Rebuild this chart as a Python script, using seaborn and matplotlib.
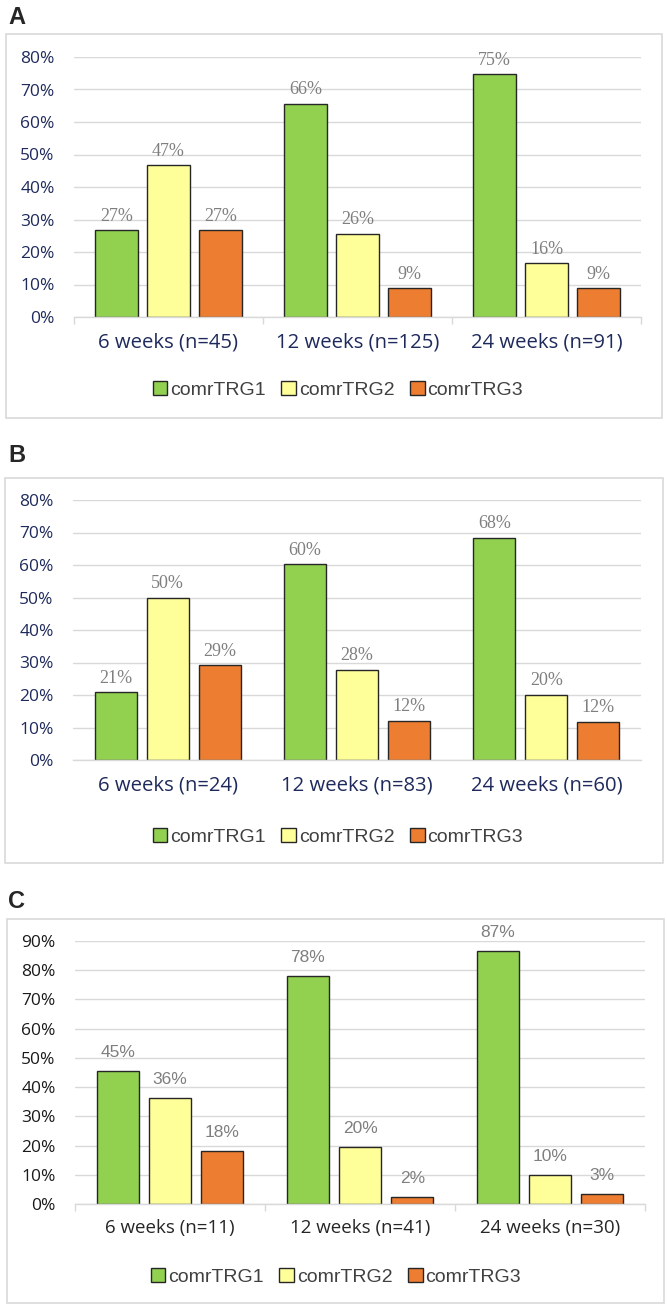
import numpy as np
import pandas as pd
import matplotlib
matplotlib.use("Agg")
import matplotlib.pyplot as plt
import seaborn as sns
from matplotlib.patches import Rectangle, Patch
from matplotlib.ticker import PercentFormatter, FixedLocator

sns.set_style("white")
plt.rcParams['font.family'] = ['Open Sans', 'DejaVu Sans']

groups = ["comrTRG1", "comrTRG2", "comrTRG3"]
colors = ["#92D050", "#FFFF99", "#ED7D31"]

cats_a = ["6 weeks (n=45)", "12 weeks (n=125)", "24 weeks (n=91)"]
trg1_a = [26.7, 65.6, 74.7]
trg2_a = [46.7, 25.6, 16.5]
trg3_a = [26.7, 8.8, 8.8]

cats_b = ["6 weeks (n=24)", "12 weeks (n=83)", "24 weeks (n=60)"]
trg1_b = [20.8, 60.2, 68.3]
trg2_b = [50.0, 27.7, 20.0]
trg3_b = [29.2, 12.0, 11.7]

cats_c = ["6 weeks (n=11)", "12 weeks (n=41)", "24 weeks (n=30)"]
trg1_c = [45.4, 78.0, 86.7]
trg2_c = [36.4, 19.5, 10.0]
trg3_c = [18.2, 2.4, 3.3]

W, H = 667, 1308
fig = plt.figure(figsize=(W / 100, H / 100), dpi=100)


def rect(left, right, top, bottom):
    return [left / W, 1 - bottom / H, (right - left) / W, (bottom - top) / H]


def panel(letter, cats, t1, t2, t3, axpx, boxpx, letter_y, leg_xy, ymax,
          tick_color, cat_color, cat_size, val_font, val_size, val_pad, xticks_marks):
    l, r, t, b = axpx
    ax = fig.add_axes(rect(l, r, t, b))
    df = pd.DataFrame({
        "cat": cats * 3,
        "grp": [g for g in groups for _ in cats],
        "val": [v / 100 for v in (t1 + t2 + t3)],
    })
    sns.barplot(data=df, x="cat", y="val", hue="grp", order=cats, hue_order=groups,
                palette=dict(zip(groups, colors)), width=0.825, gap=0.19,
                edgecolor="#262626", linewidth=1.0, ax=ax, legend=False,
                errorbar=None, saturation=1)
    for cont, vals in zip(ax.containers, (t1, t2, t3)):
        ax.bar_label(cont, labels=[f"{int(round(v))}%" for v in vals],
                     padding=val_pad, color="#7F7F7F", fontsize=val_size,
                     family=val_font)
    ax.set_ylim(0, ymax / 100)
    ax.set_xlim(-0.5, 2.5)
    ax.yaxis.set_major_locator(FixedLocator(np.arange(0, ymax / 100 + 1e-9, 0.1)))
    ax.yaxis.set_major_formatter(PercentFormatter(1, decimals=0))
    ax.yaxis.grid(True, color="#D9D9D9", lw=1)
    ax.set_axisbelow(True)
    for s in ("top", "right", "left"):
        ax.spines[s].set_visible(False)
    ax.spines["bottom"].set_color("#D9D9D9")
    ax.spines["bottom"].set_linewidth(1)
    ax.set_xlabel("")
    ax.set_ylabel("")
    ax.tick_params(axis="y", length=0, pad=14, labelsize=12.5, labelcolor=tick_color)
    ax.tick_params(axis="x", which="major", length=0, pad=11, labelsize=cat_size,
                   labelcolor=cat_color)
    if xticks_marks:
        ax.xaxis.set_minor_locator(FixedLocator([-0.5, 0.5, 1.5, 2.5]))
        ax.tick_params(axis="x", which="minor", length=5, width=1, color="#D9D9D9",
                       direction="out", bottom=True)
    x0, y0, x1, y1 = boxpx
    fig.add_artist(Rectangle((x0 / W, 1 - y1 / H), (x1 - x0) / W, (y1 - y0) / H,
                             transform=fig.transFigure, fill=False,
                             ec="#D9D9D9", lw=1.2))
    fig.text(8 / W, 1 - letter_y / H, letter, fontsize=17, fontweight="bold",
             family=["Liberation Sans", "DejaVu Sans"], va="center", ha="left")
    handles = [Patch(fc=c, ec="#262626", lw=1) for c in colors]
    fig.legend(handles, groups, loc="center",
               bbox_to_anchor=(leg_xy[0] / W, 1 - leg_xy[1] / H), ncol=3,
               frameon=False, prop=dict(family="Liberation Sans", size=14),
               labelcolor="#404040", handlelength=0.75, handleheight=0.75,
               handletextpad=0.15, columnspacing=0.8, borderaxespad=0, borderpad=0)
    return ax


serif = ["Liberation Serif", "DejaVu Serif"]
narrow = ["Liberation Sans Narrow", "Liberation Sans", "DejaVu Sans"]

panel("A", cats_a, trg1_a, trg2_a, trg3_a, (74, 641, 57, 317), (6, 34, 662, 418),
      17, (338, 390), 80, "#1F2A5C", "#1F2A5C", 14.6, serif, 13, 4, True)
panel("B", cats_b, trg1_b, trg2_b, trg3_b, (73, 641, 500, 760), (5, 478, 663, 863),
      456, (338, 837), 80, "#1F2A5C", "#1F2A5C", 14.6, serif, 13, 4, False)
panel("C", cats_c, trg1_c, trg2_c, trg3_c, (75, 645, 941, 1204), (7, 919, 664, 1303),
      902, (336, 1277), 90, "#1A1A1A", "#262626", 13.5, narrow, 12.5, 8, True)

fig.savefig("out.png", dpi=100, facecolor="white")
